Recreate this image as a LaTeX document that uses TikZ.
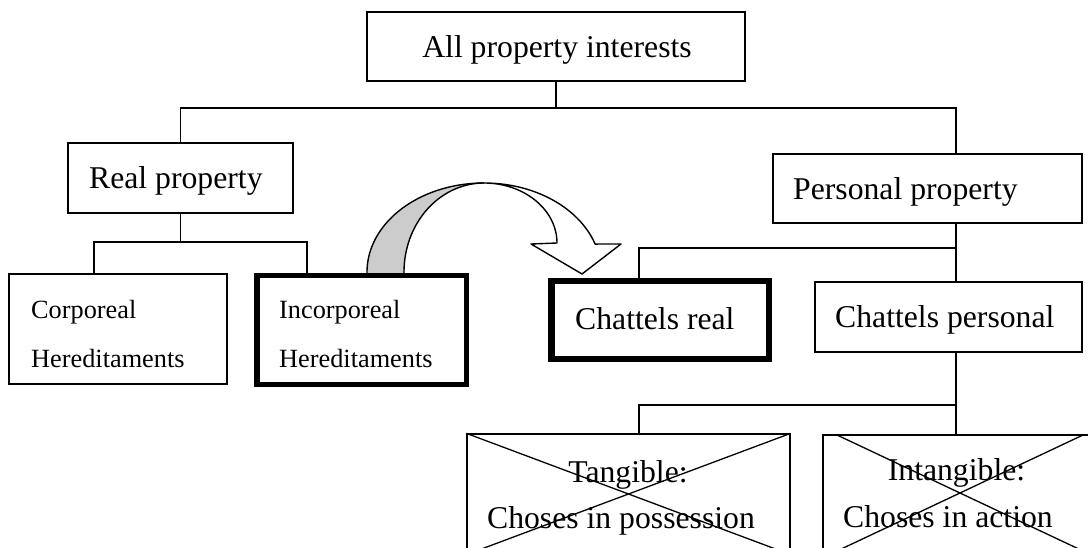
\documentclass[tikz,border=0pt]{standalone}
\usepackage{fontspec}
\setmainfont{Liberation Serif}
\definecolor{bandgray}{HTML}{CCCCCC}
\begin{document}
\begin{tikzpicture}[x=1pt,y=-1pt,
  box/.style={draw, line width=1.3pt, rectangle, inner sep=0pt},
  heavy/.style={draw, line width=5.5pt, rectangle, inner sep=0pt},
  heavier/.style={draw, line width=6.5pt, rectangle, inner sep=0pt},
  link/.style={line width=1.3pt},
  arrowline/.style={line width=1.4pt, line join=round},
  big/.style={font=\fontsize{31.7}{38}\selectfont, inner sep=0pt},
  small/.style={font=\fontsize{26.3}{32}\selectfont, inner sep=0pt}]
\useasboundingbox (0,0) rectangle (1088,548);

% curved transfer arrow (shaded ribbon + open head)
\fill[bandgray] (367,276) -- plot[domain=0:90, samples=50] ({484+117*cos(180-\x)},{272-89*sin(180-\x)})
  -- plot[domain=0:90, samples=50] ({484+80*cos(90+\x)},{272-89*sin(90+\x)}) -- (404,276) -- cycle;
\draw[arrowline] (367,276) -- plot[domain=0:90, samples=50] ({484+117*cos(180-\x)},{272-89*sin(180-\x)});
\draw[arrowline] (404,276) -- plot[domain=0:90, samples=50] ({484+80*cos(180-\x)},{272-89*sin(180-\x)});
\draw[arrowline, fill=white] plot[domain=0:71.7, samples=50] ({484+117*cos(90-\x)},{272-89*sin(90-\x)})
  -- (621,244) -- (582,274) -- (531,244) -- (557,243)
  -- plot[domain=0:90, samples=50] ({484+73*cos(\x)},{243-60*sin(\x)}) -- cycle;

% boxes
\node[box, minimum width=378pt, minimum height=69pt] (all) at (556,46.5) {};
\node[box, minimum width=225pt, minimum height=70pt] (real) at (180.5,178) {};
\node[box, minimum width=309pt, minimum height=69pt] (personal) at (927.5,188.5) {};
\node[box, minimum width=218pt, minimum height=110pt] (corp) at (118,329) {};
\node[heavy, minimum width=209.5pt, minimum height=108.5pt] (incorp) at (361.5,330) {};
\node[heavier, minimum width=217.5pt, minimum height=77.5pt] (chreal) at (660,320) {};
\node[box, minimum width=267pt, minimum height=70pt] (chpers) at (948.5,317) {};

\begin{scope}
  \clip (0,0) rectangle (1088,548);
  \node[box, minimum width=323pt, minimum height=120pt] (tang) at (628.5,494) {};
  \node[box, minimum width=274pt, minimum height=116pt] (intang) at (960,493) {};
  \draw[link] (tang.north west) -- (tang.south east);
  \draw[link] (tang.north east) -- (tang.south west);
  \draw[link] (837,435) -- (1083,551);
  \draw[link] (1083,435) -- (837,551);
\end{scope}

% labels
\node[big, anchor=base] (tall) at (557,58) {All property interests};
\node[big, anchor=base west] (treal) at (89,189) {Real property};
\node[big, anchor=base west] (tpers) at (793,200) {Personal property};
\node[big, anchor=base west] (tchpers) at (835,327) {Chattels personal};
\node[big, anchor=base west] (tchreal) at (575,330) {Chattels real};
\node[small, anchor=base west] (tcorp1) at (31,319) {Corporeal};
\node[small, anchor=base west] (tcorp2) at (31,367) {Hereditaments};
\node[small, anchor=base west] (tinc1) at (279,319) {Incorporeal};
\node[small, anchor=base west] (tinc2) at (279,367) {Hereditaments};
\node[big, anchor=base] (ttang1) at (628,482) {Tangible:};
\node[big, anchor=base] (ttang2) at (621,528) {Choses in possession};
\node[big, anchor=base] (tint1) at (956.5,480) {Intangible:};
\node[big, anchor=base] (tint2) at (948,527) {Choses in action};

% junction points
\coordinate (jTop) at (556,108);
\coordinate (jPers) at (956,108);
\coordinate (cL) at (94,242);
\coordinate (cR) at (307,242);
\coordinate (pL) at (639,248);
\coordinate (pR) at (956,248);
\coordinate (qL) at (639,405);
\coordinate (qR) at (956,405);

% connectors
\draw[link] (all.south) -- (jTop);
\draw[link] (real.north) |- (jPers) -- (personal.north -| jPers);
\draw[link] (real.south) -- (real.south |- cL);
\draw[link] (corp.north -| cL) |- (cR) -- (incorp.north -| cR);
\draw[link] (personal.south -| pR) -- (chpers.north -| pR);
\draw[link] (pR) -- (pL) -- (chreal.north -| pL);
\draw[link] (chpers.south -| qR) -- (intang.north -| qR);
\draw[link] (qR) -- (qL) -- (tang.north -| qL);
\end{tikzpicture}
\end{document}
